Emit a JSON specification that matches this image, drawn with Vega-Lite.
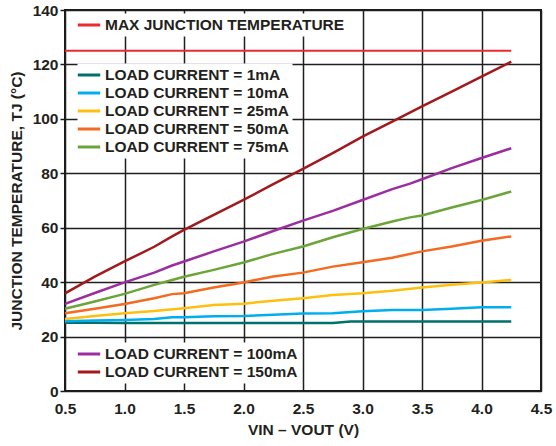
{
  "$schema": "https://vega.github.io/schema/vega-lite/v6.json",
  "width": 476,
  "height": 381,
  "autosize": "none",
  "padding": {"left": 65, "top": 10, "right": 15, "bottom": 55},
  "background": "white",
  "config": {
    "font": "Liberation Sans",
    "view": {"stroke": "#1a1a1a", "strokeWidth": 2},
    "axis": {
      "labelFont": "Liberation Sans",
      "labelFontWeight": "bold",
      "labelFontSize": 15.5,
      "labelColor": "#231F20",
      "titleFont": "Liberation Sans",
      "titleFontWeight": "bold",
      "titleFontSize": 15.5,
      "titleColor": "#231F20",
      "grid": true,
      "gridColor": "#1f1f1f",
      "gridWidth": 1.5,
      "domain": false,
      "labelOverlap": false,
      "labelFlush": false
    },
    "legend": {
      "labelFont": "Liberation Sans",
      "labelFontWeight": "bold",
      "labelFontSize": 15.5,
      "labelColor": "#231F20",
      "labelLimit": 400,
      "labelOffset": 7.5,
      "symbolType": "M-1.6,0H1.6",
      "symbolStrokeWidth": 3,
      "symbolSize": 196,
      "fillColor": "white",
      "padding": 3,
      "rowPadding": 1,
      "orient": "none"
    }
  },
  "data": {
    "values": [
      {"v": 0.5, "t": 125, "series": "MAX JUNCTION TEMPERATURE"},
      {"v": 4.25, "t": 125, "series": "MAX JUNCTION TEMPERATURE"},

      {"v": 0.5, "t": 25.1, "series": "LOAD CURRENT = 1mA"},
      {"v": 0.75, "t": 25.1, "series": "LOAD CURRENT = 1mA"},
      {"v": 1.0, "t": 25.0, "series": "LOAD CURRENT = 1mA"},
      {"v": 1.25, "t": 25.0, "series": "LOAD CURRENT = 1mA"},
      {"v": 1.5, "t": 25.0, "series": "LOAD CURRENT = 1mA"},
      {"v": 1.75, "t": 25.0, "series": "LOAD CURRENT = 1mA"},
      {"v": 2.0, "t": 25.0, "series": "LOAD CURRENT = 1mA"},
      {"v": 2.25, "t": 25.0, "series": "LOAD CURRENT = 1mA"},
      {"v": 2.5, "t": 25.0, "series": "LOAD CURRENT = 1mA"},
      {"v": 2.75, "t": 25.0, "series": "LOAD CURRENT = 1mA"},
      {"v": 2.9, "t": 25.5, "series": "LOAD CURRENT = 1mA"},
      {"v": 3.0, "t": 25.5, "series": "LOAD CURRENT = 1mA"},
      {"v": 3.25, "t": 25.5, "series": "LOAD CURRENT = 1mA"},
      {"v": 3.5, "t": 25.5, "series": "LOAD CURRENT = 1mA"},
      {"v": 3.75, "t": 25.5, "series": "LOAD CURRENT = 1mA"},
      {"v": 4.0, "t": 25.5, "series": "LOAD CURRENT = 1mA"},
      {"v": 4.25, "t": 25.5, "series": "LOAD CURRENT = 1mA"},

      {"v": 0.5, "t": 25.6, "series": "LOAD CURRENT = 10mA"},
      {"v": 0.75, "t": 25.9, "series": "LOAD CURRENT = 10mA"},
      {"v": 1.0, "t": 26.1, "series": "LOAD CURRENT = 10mA"},
      {"v": 1.25, "t": 26.5, "series": "LOAD CURRENT = 10mA"},
      {"v": 1.4, "t": 27.1, "series": "LOAD CURRENT = 10mA"},
      {"v": 1.5, "t": 27.1, "series": "LOAD CURRENT = 10mA"},
      {"v": 1.75, "t": 27.5, "series": "LOAD CURRENT = 10mA"},
      {"v": 2.0, "t": 27.6, "series": "LOAD CURRENT = 10mA"},
      {"v": 2.25, "t": 28.0, "series": "LOAD CURRENT = 10mA"},
      {"v": 2.5, "t": 28.5, "series": "LOAD CURRENT = 10mA"},
      {"v": 2.75, "t": 28.6, "series": "LOAD CURRENT = 10mA"},
      {"v": 3.0, "t": 29.3, "series": "LOAD CURRENT = 10mA"},
      {"v": 3.25, "t": 29.8, "series": "LOAD CURRENT = 10mA"},
      {"v": 3.5, "t": 29.8, "series": "LOAD CURRENT = 10mA"},
      {"v": 3.75, "t": 30.2, "series": "LOAD CURRENT = 10mA"},
      {"v": 4.0, "t": 30.8, "series": "LOAD CURRENT = 10mA"},
      {"v": 4.25, "t": 30.8, "series": "LOAD CURRENT = 10mA"},

      {"v": 0.5, "t": 26.5, "series": "LOAD CURRENT = 25mA"},
      {"v": 0.75, "t": 27.6, "series": "LOAD CURRENT = 25mA"},
      {"v": 1.0, "t": 28.6, "series": "LOAD CURRENT = 25mA"},
      {"v": 1.25, "t": 29.4, "series": "LOAD CURRENT = 25mA"},
      {"v": 1.5, "t": 30.4, "series": "LOAD CURRENT = 25mA"},
      {"v": 1.75, "t": 31.6, "series": "LOAD CURRENT = 25mA"},
      {"v": 2.0, "t": 32.1, "series": "LOAD CURRENT = 25mA"},
      {"v": 2.25, "t": 33.2, "series": "LOAD CURRENT = 25mA"},
      {"v": 2.5, "t": 34.1, "series": "LOAD CURRENT = 25mA"},
      {"v": 2.75, "t": 35.3, "series": "LOAD CURRENT = 25mA"},
      {"v": 3.0, "t": 35.9, "series": "LOAD CURRENT = 25mA"},
      {"v": 3.25, "t": 36.8, "series": "LOAD CURRENT = 25mA"},
      {"v": 3.5, "t": 38.0, "series": "LOAD CURRENT = 25mA"},
      {"v": 3.75, "t": 39.0, "series": "LOAD CURRENT = 25mA"},
      {"v": 4.0, "t": 39.9, "series": "LOAD CURRENT = 25mA"},
      {"v": 4.25, "t": 40.8, "series": "LOAD CURRENT = 25mA"},

      {"v": 0.5, "t": 28.6, "series": "LOAD CURRENT = 50mA"},
      {"v": 0.75, "t": 30.2, "series": "LOAD CURRENT = 50mA"},
      {"v": 1.0, "t": 32.0, "series": "LOAD CURRENT = 50mA"},
      {"v": 1.25, "t": 34.1, "series": "LOAD CURRENT = 50mA"},
      {"v": 1.4, "t": 35.6, "series": "LOAD CURRENT = 50mA"},
      {"v": 1.5, "t": 35.9, "series": "LOAD CURRENT = 50mA"},
      {"v": 1.75, "t": 38.0, "series": "LOAD CURRENT = 50mA"},
      {"v": 2.0, "t": 39.9, "series": "LOAD CURRENT = 50mA"},
      {"v": 2.25, "t": 42.1, "series": "LOAD CURRENT = 50mA"},
      {"v": 2.5, "t": 43.5, "series": "LOAD CURRENT = 50mA"},
      {"v": 2.75, "t": 45.7, "series": "LOAD CURRENT = 50mA"},
      {"v": 3.0, "t": 47.3, "series": "LOAD CURRENT = 50mA"},
      {"v": 3.25, "t": 49.0, "series": "LOAD CURRENT = 50mA"},
      {"v": 3.5, "t": 51.3, "series": "LOAD CURRENT = 50mA"},
      {"v": 3.75, "t": 53.1, "series": "LOAD CURRENT = 50mA"},
      {"v": 4.0, "t": 55.2, "series": "LOAD CURRENT = 50mA"},
      {"v": 4.25, "t": 56.8, "series": "LOAD CURRENT = 50mA"},

      {"v": 0.5, "t": 30.2, "series": "LOAD CURRENT = 75mA"},
      {"v": 0.75, "t": 32.9, "series": "LOAD CURRENT = 75mA"},
      {"v": 1.0, "t": 35.7, "series": "LOAD CURRENT = 75mA"},
      {"v": 1.25, "t": 39.0, "series": "LOAD CURRENT = 75mA"},
      {"v": 1.4, "t": 40.8, "series": "LOAD CURRENT = 75mA"},
      {"v": 1.5, "t": 42.0, "series": "LOAD CURRENT = 75mA"},
      {"v": 1.75, "t": 44.5, "series": "LOAD CURRENT = 75mA"},
      {"v": 2.0, "t": 47.2, "series": "LOAD CURRENT = 75mA"},
      {"v": 2.25, "t": 50.4, "series": "LOAD CURRENT = 75mA"},
      {"v": 2.5, "t": 53.1, "series": "LOAD CURRENT = 75mA"},
      {"v": 2.75, "t": 56.5, "series": "LOAD CURRENT = 75mA"},
      {"v": 3.0, "t": 59.5, "series": "LOAD CURRENT = 75mA"},
      {"v": 3.25, "t": 62.3, "series": "LOAD CURRENT = 75mA"},
      {"v": 3.4, "t": 63.8, "series": "LOAD CURRENT = 75mA"},
      {"v": 3.5, "t": 64.5, "series": "LOAD CURRENT = 75mA"},
      {"v": 3.75, "t": 67.4, "series": "LOAD CURRENT = 75mA"},
      {"v": 4.0, "t": 70.2, "series": "LOAD CURRENT = 75mA"},
      {"v": 4.25, "t": 73.3, "series": "LOAD CURRENT = 75mA"},

      {"v": 0.5, "t": 32.0, "series": "LOAD CURRENT = 100mA"},
      {"v": 0.75, "t": 36.0, "series": "LOAD CURRENT = 100mA"},
      {"v": 1.0, "t": 39.9, "series": "LOAD CURRENT = 100mA"},
      {"v": 1.25, "t": 43.5, "series": "LOAD CURRENT = 100mA"},
      {"v": 1.4, "t": 46.1, "series": "LOAD CURRENT = 100mA"},
      {"v": 1.5, "t": 47.6, "series": "LOAD CURRENT = 100mA"},
      {"v": 1.75, "t": 51.3, "series": "LOAD CURRENT = 100mA"},
      {"v": 2.0, "t": 54.9, "series": "LOAD CURRENT = 100mA"},
      {"v": 2.25, "t": 58.8, "series": "LOAD CURRENT = 100mA"},
      {"v": 2.5, "t": 62.6, "series": "LOAD CURRENT = 100mA"},
      {"v": 2.75, "t": 66.2, "series": "LOAD CURRENT = 100mA"},
      {"v": 3.0, "t": 70.2, "series": "LOAD CURRENT = 100mA"},
      {"v": 3.25, "t": 74.2, "series": "LOAD CURRENT = 100mA"},
      {"v": 3.4, "t": 76.2, "series": "LOAD CURRENT = 100mA"},
      {"v": 3.5, "t": 77.8, "series": "LOAD CURRENT = 100mA"},
      {"v": 3.75, "t": 81.9, "series": "LOAD CURRENT = 100mA"},
      {"v": 4.0, "t": 85.6, "series": "LOAD CURRENT = 100mA"},
      {"v": 4.25, "t": 89.2, "series": "LOAD CURRENT = 100mA"},

      {"v": 0.5, "t": 35.9, "series": "LOAD CURRENT = 150mA"},
      {"v": 0.75, "t": 42.0, "series": "LOAD CURRENT = 150mA"},
      {"v": 1.0, "t": 47.6, "series": "LOAD CURRENT = 150mA"},
      {"v": 1.25, "t": 53.0, "series": "LOAD CURRENT = 150mA"},
      {"v": 1.4, "t": 56.8, "series": "LOAD CURRENT = 150mA"},
      {"v": 1.5, "t": 59.2, "series": "LOAD CURRENT = 150mA"},
      {"v": 1.75, "t": 64.7, "series": "LOAD CURRENT = 150mA"},
      {"v": 2.0, "t": 70.2, "series": "LOAD CURRENT = 150mA"},
      {"v": 2.25, "t": 76.0, "series": "LOAD CURRENT = 150mA"},
      {"v": 2.5, "t": 81.6, "series": "LOAD CURRENT = 150mA"},
      {"v": 2.75, "t": 87.4, "series": "LOAD CURRENT = 150mA"},
      {"v": 3.0, "t": 93.5, "series": "LOAD CURRENT = 150mA"},
      {"v": 3.25, "t": 99.0, "series": "LOAD CURRENT = 150mA"},
      {"v": 3.5, "t": 104.6, "series": "LOAD CURRENT = 150mA"},
      {"v": 3.75, "t": 110.0, "series": "LOAD CURRENT = 150mA"},
      {"v": 4.0, "t": 115.5, "series": "LOAD CURRENT = 150mA"},
      {"v": 4.25, "t": 121.0, "series": "LOAD CURRENT = 150mA"}
    ]
  },
  "encoding": {
    "x": {
      "field": "v", "type": "quantitative",
      "scale": {"domain": [0.5, 4.5], "nice": false, "zero": false},
      "axis": {
        "values": [0.5, 1.0, 1.5, 2.0, 2.5, 3.0, 3.5, 4.0, 4.5],
        "format": ".1f",
        "ticks": false,
        "labelPadding": 10,
        "title": "VIN – VOUT (V)",
        "titlePadding": 6
      }
    },
    "y": {
      "field": "t", "type": "quantitative",
      "scale": {"domain": [0, 140], "nice": false},
      "axis": {
        "values": [0, 20, 40, 60, 80, 100, 120, 140],
        "ticks": true,
        "tickSize": 5,
        "tickColor": "#1a1a1a",
        "tickWidth": 1.5,
        "labelPadding": 2,
        "title": "JUNCTION TEMPERATURE, TJ (°C)",
        "titlePadding": 8
      }
    }
  },
  "layer": [
    {
      "transform": [{"filter": "datum.series === 'MAX JUNCTION TEMPERATURE'"}],
      "mark": {"type": "line", "strokeWidth": 2},
      "encoding": {
        "color": {
          "field": "series", "type": "nominal",
          "scale": {"domain": ["MAX JUNCTION TEMPERATURE"], "range": ["#EC2A30"]},
          "legend": {"title": null, "legendX": 12.5, "legendY": 3.5}
        }
      }
    },
    {
      "transform": [{"filter": "indexof(['LOAD CURRENT = 1mA','LOAD CURRENT = 10mA','LOAD CURRENT = 25mA','LOAD CURRENT = 50mA','LOAD CURRENT = 75mA'], datum.series) >= 0"}],
      "mark": {"type": "line", "strokeWidth": 2.5},
      "encoding": {
        "color": {
          "field": "series", "type": "nominal",
          "scale": {
            "domain": ["LOAD CURRENT = 1mA", "LOAD CURRENT = 10mA", "LOAD CURRENT = 25mA", "LOAD CURRENT = 50mA", "LOAD CURRENT = 75mA"],
            "range": ["#00706B", "#00AEEF", "#FDC010", "#F36A21", "#6BA539"]
          },
          "legend": {"title": null, "legendX": 12.5, "legendY": 53.5}
        },
        "order": {"field": "v"}
      }
    },
    {
      "transform": [{"filter": "indexof(['LOAD CURRENT = 100mA','LOAD CURRENT = 150mA'], datum.series) >= 0"}],
      "mark": {"type": "line", "strokeWidth": 2.5},
      "encoding": {
        "color": {
          "field": "series", "type": "nominal",
          "scale": {
            "domain": ["LOAD CURRENT = 100mA", "LOAD CURRENT = 150mA"],
            "range": ["#9B2D9F", "#A1191D"]
          },
          "legend": {"title": null, "legendX": 12.5, "legendY": 332.5}
        },
        "order": {"field": "v"}
      }
    }
  ],
  "resolve": {"scale": {"color": "independent"}}
}
